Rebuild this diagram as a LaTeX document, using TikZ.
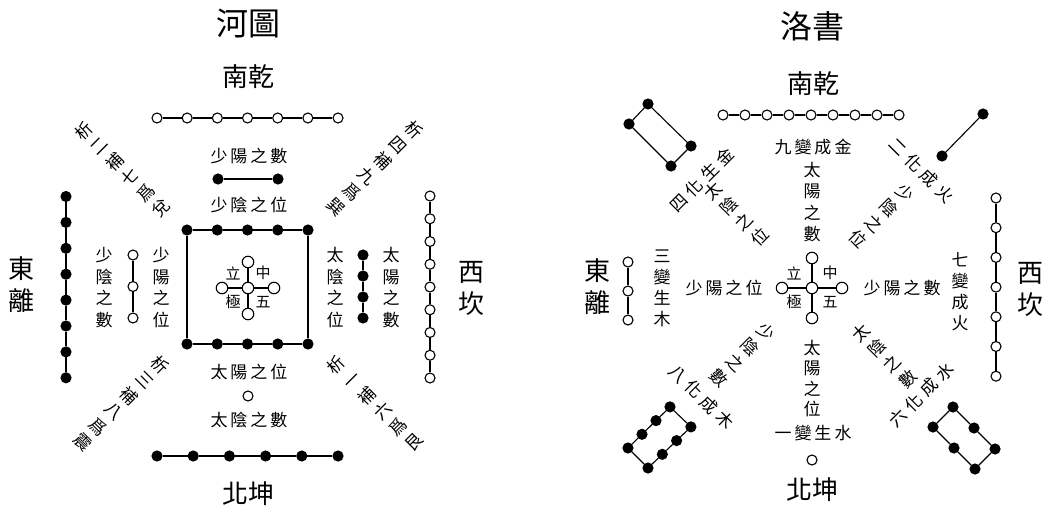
\documentclass[tikz,border=0pt]{standalone}
\usepackage{fontspec}
\setmainfont{Noto Sans CJK TC}
\usetikzlibrary{positioning}
\newcommand\gp{\hskip3pt}
\newcommand\gq{\hskip5pt}

\begin{document}
\begin{tikzpicture}[x=1pt,y=-1pt,line width=1.1pt,
  opendot/.style={circle,draw,fill=white,inner sep=0pt,minimum size=10pt},
  fulldot/.style={circle,draw,fill=black,inner sep=0pt,minimum size=10pt},
  hubdot/.style={opendot,minimum size=11.5pt},
  lbl/.style={font=\fontsize{17}{21.5}\selectfont,inner sep=0pt,align=center},
  dlbl/.style={font=\fontsize{17}{22}\selectfont,inner sep=0pt,align=center},
  sml/.style={font=\fontsize{15}{18}\selectfont,inner sep=0pt},
  big/.style={font=\fontsize{26}{32}\selectfont,inner sep=0pt,align=center},
  ttl/.style={font=\fontsize{32}{36}\selectfont,inner sep=0pt}]
\useasboundingbox (0,0) rectangle (1046,514);
% ---- 河圖
\node[ttl] (hetu) at (248,24) {河圖};
\node[big] (hS) at (248,77) {南乾};
\node[big] (hN) at (248,494) {北坤};
\node[big] (hE) at (22,285) {東\\離};
\node[big] (hW) at (471,288) {西\\坎};
\foreach \i in {0,...,6} \node[opendot] (h7\i) at (157+\i*30.17,118) {};
\foreach \i [count=\j] in {0,...,5} \draw (h7\i) -- (h7\j);
\node[lbl] (h7t) at (249,156) {少\gp 陽\gp 之\gp 數};
\node[fulldot] (h2a) at (218,179) {}; \node[fulldot] (h2b) at (278,179) {};
\draw (h2a) -- (h2b);
\node[lbl] (h2t) at (249,205) {少\gp 陰\gp 之\gp 位};
\foreach \y/\n in {230/t,344/b}
{ \foreach \i in {0,...,4} \node[fulldot] (hq\n\i) at (187+\i*30.25,\y) {};
  \foreach \i [count=\j] in {0,...,3} \draw (hq\n\i) -- (hq\n\j); }
\draw (hqt0) -- (hqb0); \draw (hqt4) -- (hqb4);
\node[hubdot] (hc) at (248,288) {};
\foreach \n/\x/\y in {u/248/262,d/248/314,l/222/288,r/274/288}
{ \node[hubdot] (hc\n) at (\x,\y) {}; \draw (hc) -- (hc\n); }
\node[sml] (hc1) at (233,273) {立}; \node[sml] (hc2) at (263,273) {中};
\node[sml] (hc3) at (233,302) {極}; \node[sml] (hc4) at (263,302) {五};
\node[lbl] (h1t) at (249,372) {太\gp 陽\gp 之\gp 位};
\node[opendot] (h1) at (248,396) {};
\node[lbl] (h6t) at (249,420) {太\gp 陰\gp 之\gp 數};
\foreach \i in {0,...,5} \node[fulldot] (h6\i) at (157+\i*36.2,456) {};
\foreach \i [count=\j] in {0,...,4} \draw (h6\i) -- (h6\j);
\foreach \i in {0,...,7} \node[fulldot] (h8\i) at (66,196.5+\i*25.9) {};
\foreach \i [count=\j] in {0,...,6} \draw (h8\i) -- (h8\j);
\foreach \i in {0,...,2} \node[opendot] (h3\i) at (133,255+\i*31.5) {};
\foreach \i [count=\j] in {0,1} \draw (h3\i) -- (h3\j);
\node[lbl] (h8t) at (104,287.5) {少\\陰\\之\\數};
\node[lbl] (h3t) at (161,287.5) {少\\陽\\之\\位};
\node[lbl] (h4t) at (335,287.5) {太\\陰\\之\\位};
\foreach \i in {0,...,3} \node[fulldot] (h4\i) at (363,255+\i*21) {};
\foreach \i [count=\j] in {0,...,2} \draw (h4\i) -- (h4\j);
\node[lbl] (h9t) at (391,287.5) {太\\陽\\之\\數};
\foreach \i in {0,...,8} \node[opendot] (h9\i) at (430,196+\i*22.75) {};
\foreach \i [count=\j] in {0,...,7} \draw (h9\i) -- (h9\j);
\node[dlbl,rotate=45] (hd1) at (122.5,169.5) {析\\二\\補\\七\\爲\\兌};
\node[dlbl,rotate=-45] (hd2) at (375,168.5) {析\\四\\補\\九\\爲\\巽};
\node[dlbl,rotate=-45] (hd3) at (121.5,403.5) {析\\三\\補\\八\\爲\\震};
\node[dlbl,rotate=45] (hd4) at (375,403.5) {析\\一\\補\\六\\爲\\艮};
% ---- 洛書
\node[ttl] (luoshu) at (812,26) {洛書};
\node[big] (lS) at (813,84) {南乾};
\node[big] (lN) at (812,490) {北坤};
\node[big] (lE) at (597,287) {東\\離};
\node[big] (lW) at (1030,289) {西\\坎};
\foreach \i in {0,...,8} \node[opendot] (l9\i) at (723+\i*22,115) {};
\foreach \i [count=\j] in {0,...,7} \draw (l9\i) -- (l9\j);
\node[lbl] (l9t) at (813,147) {九\gp 變\gp 成\gp 金};
\node[lbl,font=\fontsize{17}{21.3}\selectfont] (l9s) at (812,202) {太\\陽\\之\\數};
\node[hubdot] (lc) at (812,288) {};
\foreach \n/\x/\y in {u/812/258,d/812/318,l/782/288,r/842/288}
{ \node[hubdot] (lc\n) at (\x,\y) {}; \draw (lc) -- (lc\n); }
\node[sml] (lc1) at (794,273) {立}; \node[sml] (lc2) at (830,273) {中};
\node[sml] (lc3) at (794,302) {極}; \node[sml] (lc4) at (830,302) {五};
\node[lbl] (l5a) at (724,288) {少\gp 陽\gp 之\gp 位};
\node[lbl] (l5b) at (902,288) {少\gp 陽\gp 之\gp 數};
\node[lbl,font=\fontsize{17}{20.3}\selectfont] (l1s) at (812,378.5) {太\\陽\\之\\位};
\node[lbl] (l1t) at (813,433) {一\gp 變\gp 生\gp 水};
\node[opendot] (l1) at (812,460) {};
\foreach \i in {0,...,2} \node[opendot] (l3\i) at (628,262+\i*29) {};
\foreach \i [count=\j] in {0,1} \draw (l3\i) -- (l3\j);
\node[lbl,font=\fontsize{17}{21}\selectfont] (l3t) at (662,288.5) {三\\變\\生\\木};
\foreach \i in {0,...,6} \node[opendot] (l7\i) at (996,198+\i*29.7) {};
\foreach \i [count=\j] in {0,...,5} \draw (l7\i) -- (l7\j);
\node[lbl,font=\fontsize{17}{21}\selectfont] (l7t) at (960,291.5) {七\\變\\成\\火};
% corner figures
\foreach \n/\x/\y in {a/648/104,b/691/146,c/671/166,d/629/124} \node[fulldot] (l4\n) at (\x,\y) {};
\draw (l4a) -- (l4b) -- (l4c) -- (l4d) -- (l4a);
\node[fulldot] (l2a) at (983,114) {}; \node[fulldot] (l2b) at (942,156) {};
\draw (l2a) -- (l2b);
\foreach \i in {0,...,3}
{ \node[fulldot] (l8a\i) at (628+\i*14,448-\i*13.7) {};
  \node[fulldot] (l8b\i) at (648+\i*14.3,468-\i*13.7) {}; }
\foreach \i [count=\j] in {0,...,2} { \draw (l8a\i) -- (l8a\j); \draw (l8b\i) -- (l8b\j); }
\draw (l8a0) -- (l8b0); \draw (l8a3) -- (l8b3);
\foreach \i in {0,...,2}
{ \node[fulldot] (l6a\i) at (953+\i*21,407+\i*21) {};
  \node[fulldot] (l6b\i) at (933+\i*21,427+\i*21) {}; }
\foreach \i [count=\j] in {0,1} { \draw (l6a\i) -- (l6a\j); \draw (l6b\i) -- (l6b\j); }
\draw (l6a0) -- (l6b0); \draw (l6a2) -- (l6b2);
\node[dlbl,rotate=45] (ld1) at (702,180) {四\gq 化\gq 生\gq 金};
\node[dlbl,rotate=45] (ld2) at (736.5,214) {太\\陰\\之\\位};
\node[dlbl,rotate=-45] (ld3) at (921.5,170.5) {二\gq 化\gq 成\gq 火};
\node[dlbl,rotate=-45] (ld4) at (881.5,216) {少\\陰\\之\\位};
\node[dlbl,rotate=-45] (ld5) at (742.5,355) {少\\陰\\之\\數};
\node[dlbl,rotate=-45] (ld6) at (701.5,397) {八\gq 化\gq 成\gq 木};
\node[dlbl,rotate=45] (ld7) at (884.5,356) {太\\陰\\之\\數};
\node[dlbl,rotate=45] (ld8) at (921.5,395) {六\gq 化\gq 成\gq 水};
\end{tikzpicture}
\end{document}
